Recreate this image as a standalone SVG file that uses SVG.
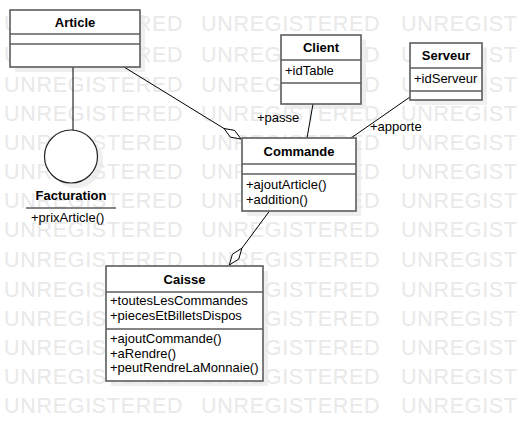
<svg xmlns="http://www.w3.org/2000/svg" width="522" height="421" viewBox="0 0 522 421">
<style>
.wm{font-family:"Liberation Sans",Arial,sans-serif;font-size:21.5px;letter-spacing:0.7px;fill:#e9e9e9}
.sh{fill:#efefef}
.box{fill:#fff;stroke:#5c5c5c;stroke-width:1.6}
.sep{stroke:#5c5c5c;stroke-width:1.6}
.t{font-family:"Liberation Sans",Arial,sans-serif;font-size:13px;fill:#000}
.b{font-weight:bold;text-anchor:middle}
.c{fill:none;stroke:#000;stroke-width:1}
.dia{fill:#fff;stroke:#000;stroke-width:1}
</style>
<rect width="522" height="421" fill="#fff"/>
<g id="shadows">
<rect class="sh" x="15" y="15" width="130" height="57"/>
<rect class="sh" x="286" y="40" width="80" height="69"/>
<rect class="sh" x="415" y="48" width="72" height="57"/>
<rect class="sh" x="247" y="143" width="114" height="73"/>
<rect class="sh" x="111" y="271" width="157" height="115"/>
<circle class="sh" cx="76" cy="161" r="27"/>
</g>
<g id="watermark">
<text class="wm" y="31"><tspan x="4">UNREGISTERED</tspan><tspan x="201">UNREGISTERED</tspan><tspan x="401">UNREGIST</tspan></text>
<text class="wm" y="62"><tspan x="4">UNREGISTERED</tspan><tspan x="201">UNREGISTERED</tspan><tspan x="401">UNREGIST</tspan></text>
<text class="wm" y="91.5"><tspan x="4">UNREGISTERED</tspan><tspan x="201">UNREGISTERED</tspan><tspan x="401">UNREGIST</tspan></text>
<text class="wm" y="120.7"><tspan x="4">UNREGISTERED</tspan><tspan x="201">UNREGISTERED</tspan><tspan x="401">UNREGIST</tspan></text>
<text class="wm" y="150"><tspan x="4">UNREGISTERED</tspan><tspan x="201">UNREGISTERED</tspan><tspan x="401">UNREGIST</tspan></text>
<text class="wm" y="179"><tspan x="4">UNREGISTERED</tspan><tspan x="201">UNREGISTERED</tspan><tspan x="401">UNREGIST</tspan></text>
<text class="wm" y="208.3"><tspan x="4">UNREGISTERED</tspan><tspan x="201">UNREGISTERED</tspan><tspan x="401">UNREGIST</tspan></text>
<text class="wm" y="237"><tspan x="4">UNREGISTERED</tspan><tspan x="201">UNREGISTERED</tspan><tspan x="401">UNREGIST</tspan></text>
<text class="wm" y="266.7"><tspan x="4">UNREGISTERED</tspan><tspan x="201">UNREGISTERED</tspan><tspan x="401">UNREGIST</tspan></text>
<text class="wm" y="296.5"><tspan x="4">UNREGISTERED</tspan><tspan x="201">UNREGISTERED</tspan><tspan x="401">UNREGIST</tspan></text>
<text class="wm" y="325.5"><tspan x="4">UNREGISTERED</tspan><tspan x="201">UNREGISTERED</tspan><tspan x="401">UNREGIST</tspan></text>
<text class="wm" y="355"><tspan x="4">UNREGISTERED</tspan><tspan x="201">UNREGISTERED</tspan><tspan x="401">UNREGIST</tspan></text>
<text class="wm" y="384"><tspan x="4">UNREGISTERED</tspan><tspan x="201">UNREGISTERED</tspan><tspan x="401">UNREGIST</tspan></text>
<text class="wm" y="413.3"><tspan x="4">UNREGISTERED</tspan><tspan x="201">UNREGISTERED</tspan><tspan x="401">UNREGIST</tspan></text>
</g>
<g id="connectors">
<line class="c" x1="73" y1="67" x2="73" y2="130"/>
<line class="c" x1="124" y1="67" x2="224" y2="128.5"/>
<polygon class="dia" points="241,139 234.6,130.4 224,128.5 230.4,137.2"/>
<line class="c" x1="313" y1="104" x2="307" y2="138"/>
<line class="c" x1="410" y1="97" x2="351" y2="138"/>
<line class="c" x1="269.5" y1="211" x2="241.9" y2="248.2"/>
<polygon class="dia" points="229.3,265 232.4,254.2 241.9,248.2 238.8,259"/>
<text class="t" x="257" y="122">+passe</text>
<text class="t" x="370" y="131">+apporte</text>
</g>
<g id="Article">
<rect class="box" x="10" y="10" width="130" height="57"/>
<line class="sep" x1="10" y1="34" x2="140" y2="34"/>
<line class="sep" x1="10" y1="44" x2="140" y2="44"/>
<text class="t b" x="75" y="26.5">Article</text>
</g>
<g id="Facturation">
<circle cx="71" cy="156.5" r="26.5" fill="#fff" stroke="#222" stroke-width="1.2"/>
<text class="t b" x="71" y="200">Facturation</text>
<line class="sep" x1="26" y1="208" x2="116" y2="208"/>
<text class="t" x="31" y="221.5">+prixArticle()</text>
</g>
<g id="Client">
<rect class="box" x="281" y="35" width="80" height="69"/>
<line class="sep" x1="281" y1="60" x2="361" y2="60"/>
<line class="sep" x1="281" y1="83" x2="361" y2="83"/>
<text class="t b" x="321" y="52">Client</text>
<text class="t" x="285" y="75">+idTable</text>
</g>
<g id="Serveur">
<rect class="box" x="410" y="43" width="72" height="57"/>
<line class="sep" x1="410" y1="68" x2="482" y2="68"/>
<line class="sep" x1="410" y1="91" x2="482" y2="91"/>
<text class="t b" x="446" y="60">Serveur</text>
<text class="t" x="414" y="83">+idServeur</text>
</g>
<g id="Commande">
<rect class="box" x="242" y="138" width="114" height="73"/>
<line class="sep" x1="242" y1="164" x2="356" y2="164"/>
<line class="sep" x1="242" y1="174" x2="356" y2="174"/>
<text class="t b" x="299" y="155.5">Commande</text>
<text class="t" x="246" y="188.5">+ajoutArticle()</text>
<text class="t" x="246" y="203.5">+addition()</text>
</g>
<g id="Caisse">
<rect class="box" x="106" y="266" width="157" height="115"/>
<line class="sep" x1="106" y1="292" x2="263" y2="292"/>
<line class="sep" x1="106" y1="329" x2="263" y2="329"/>
<text class="t b" x="184.5" y="283.5">Caisse</text>
<text class="t" x="110" y="305">+toutesLesCommandes</text>
<text class="t" x="110" y="319.5">+piecesEtBilletsDispos</text>
<text class="t" x="110" y="343">+ajoutCommande()</text>
<text class="t" x="110" y="357.5">+aRendre()</text>
<text class="t" x="110" y="372">+peutRendreLaMonnaie()</text>
</g>
</svg>
